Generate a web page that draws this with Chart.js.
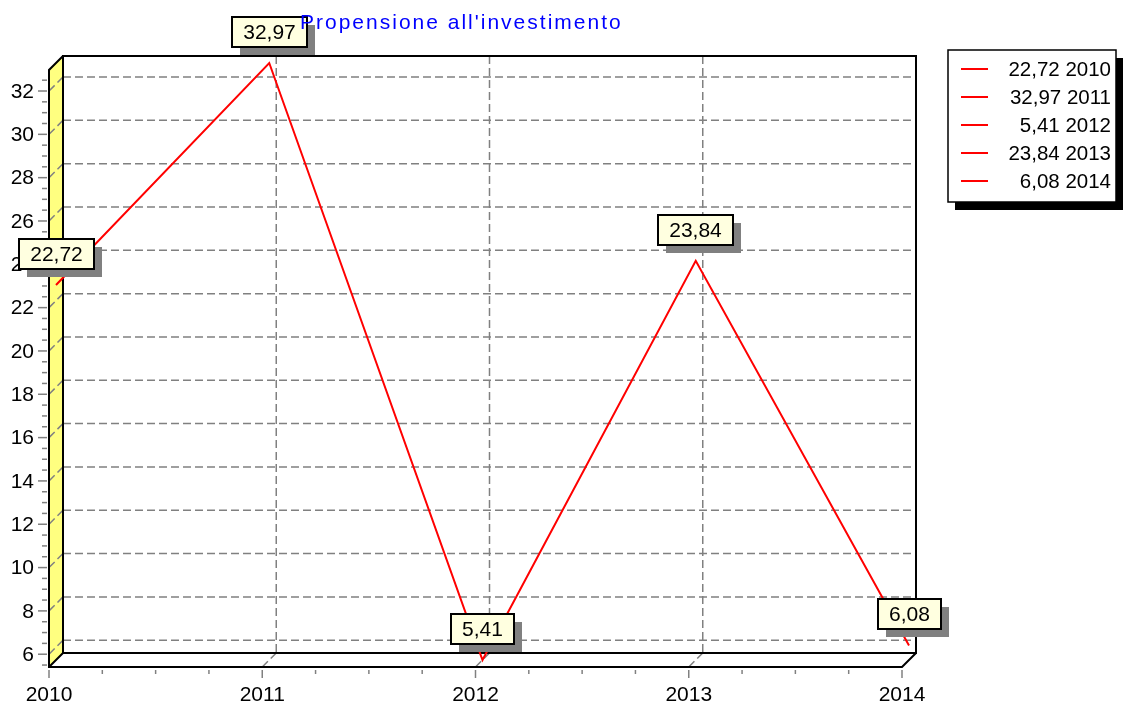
<!DOCTYPE html>
<html lang="it">
<head>
<meta charset="UTF-8">
<title>Propensione all'investimento</title>
<script src="https://cdn.jsdelivr.net/npm/chart.js"></script>
<style>
  html, body { margin: 0; padding: 0; background: #fff; }
  #wrap { width: 1125px; height: 705px; }
</style>
</head>
<body>
<div id="wrap"><canvas id="chart" width="1125" height="705"></canvas></div>
<script>
// data
const chartTitle = "Propensione all'investimento";
const years = [2010, 2011, 2012, 2013, 2014];
const values = [22.72, 32.97, 5.41, 23.84, 6.08];
const yTicks = [6, 8, 10, 12, 14, 16, 18, 20, 22, 24, 26, 28, 30, 32];
const xTicks = [2010, 2011, 2012, 2013, 2014];

const FONT = "'Liberation Sans', Arial, sans-serif";
const DEPTH = 14;           // 3D wall depth in px
const fmt = v => v.toFixed(2).replace('.', ',');

function dashedLine(ctx, x1, y1, x2, y2) {
  ctx.beginPath();
  ctx.moveTo(x1, y1);
  ctx.lineTo(x2, y2);
  ctx.stroke();
}

const walls = {
  id: 'walls',
  beforeDatasetsDraw(chart) {
    const ctx = chart.ctx;
    const a = chart.chartArea;
    const xs = chart.scales.x, ys = chart.scales.y;
    const L = a.left, R = a.right, T = a.top, B = a.bottom, d = DEPTH;

    ctx.save();
    // left wall (yellow)
    ctx.fillStyle = '#ffff80';
    ctx.beginPath();
    ctx.moveTo(L, T); ctx.lineTo(L + d, T - d); ctx.lineTo(L + d, B - d); ctx.lineTo(L, B);
    ctx.closePath(); ctx.fill();

    // grid lines (back wall + diagonals)
    ctx.strokeStyle = '#808080';
    ctx.lineWidth = 1.5;
    ctx.setLineDash([8, 4]);
    yTicks.forEach(v => {
      const y = ys.getPixelForValue(v);
      dashedLine(ctx, L + d, y - d, R + d, y - d);
      dashedLine(ctx, L, y, L + d, y - d);
    });
    xTicks.forEach(v => {
      const x = xs.getPixelForValue(v);
      if (v !== xTicks[0] && v !== xTicks[xTicks.length - 1]) {
        dashedLine(ctx, x + d, T - d, x + d, B - d);
        dashedLine(ctx, x, B, x + d, B - d);
      }
    });
    ctx.setLineDash([]);

    // borders
    ctx.strokeStyle = '#000';
    ctx.lineWidth = 2;
    ctx.beginPath();
    ctx.moveTo(L + d, B - d); ctx.lineTo(L + d, T - d); ctx.lineTo(R + d, T - d); ctx.lineTo(R + d, B - d);
    ctx.lineTo(L + d, B - d);
    ctx.stroke();
    ctx.beginPath();
    ctx.moveTo(L + d, T - d); ctx.lineTo(L, T); ctx.lineTo(L, B); ctx.lineTo(R, B); ctx.lineTo(R + d, B - d);
    ctx.moveTo(L, B); ctx.lineTo(L + d, B - d);
    ctx.stroke();

    // y ticks
    ctx.lineWidth = 1.5;
    ctx.strokeStyle = '#808080';
    for (let v = 5.5; v <= ys.max; v += 0.5) {
      if (v < ys.min) continue;
      const y = ys.getPixelForValue(v);
      const major = yTicks.includes(v);
      ctx.beginPath();
      ctx.moveTo(major ? L - 11 : L - 7, y);
      ctx.lineTo(L - 2, y);
      ctx.stroke();
    }
    ctx.fillStyle = '#000';
    ctx.font = '21px ' + FONT;
    ctx.textAlign = 'right';
    ctx.textBaseline = 'middle';
    yTicks.forEach(v => ctx.fillText(String(v), L - 15, ys.getPixelForValue(v) + 1));

    // x ticks
    for (let v = xTicks[0]; v <= xTicks[xTicks.length - 1]; v += 0.25) {
      const x = xs.getPixelForValue(v);
      const major = Number.isInteger(v);
      ctx.beginPath();
      ctx.moveTo(x, B + 3);
      ctx.lineTo(x, major ? B + 11 : B + 7);
      ctx.stroke();
    }
    ctx.font = '21px ' + FONT;
    ctx.textAlign = 'center';
    ctx.textBaseline = 'alphabetic';
    xTicks.forEach(v => ctx.fillText(String(v), xs.getPixelForValue(v), B + 34));
    ctx.restore();

    // series sits halfway into the depth
    ctx.save();
    ctx.translate(d / 2, -d / 2);
  },
  afterDatasetsDraw(chart) {
    const ctx = chart.ctx;
    ctx.restore();
    const xs = chart.scales.x, ys = chart.scales.y, d = DEPTH;

    // value marks
    ctx.save();
    ctx.font = '21px ' + FONT;
    ctx.textAlign = 'center';
    ctx.textBaseline = 'middle';
    values.forEach((v, i) => {
      const px = xs.getPixelForValue(years[i]) + d / 2;
      const py = ys.getPixelForValue(v) - d / 2;
      const txt = fmt(v);
      const w = Math.round(ctx.measureText(txt).width + 22), h = 30;
      const bx = Math.round(px - w / 2), by = Math.round(py - 16 - h);
      ctx.fillStyle = '#808080';
      ctx.fillRect(bx + 8, by + 8, w, h);
      ctx.fillStyle = '#ffffe0';
      ctx.fillRect(bx, by, w, h);
      ctx.strokeStyle = '#000';
      ctx.lineWidth = 2;
      ctx.strokeRect(bx, by, w, h);
      ctx.fillStyle = '#000';
      ctx.fillText(txt, bx + w / 2, by + h / 2 + 1);
    });

    // legend
    const lx = 948, ly = 50, lw = 168, lh = 152;
    ctx.fillStyle = '#000';
    ctx.fillRect(lx + 7, ly + 8, lw, lh);
    ctx.fillStyle = '#fff';
    ctx.fillRect(lx, ly, lw, lh);
    ctx.lineWidth = 1.5;
    ctx.strokeRect(lx, ly, lw, lh);
    ctx.font = '20.5px ' + FONT;
    ctx.textAlign = 'right';
    years.forEach((yr, i) => {
      const y = 69 + i * 28;
      ctx.strokeStyle = '#ff0000';
      ctx.lineWidth = 2;
      ctx.beginPath();
      ctx.moveTo(961, y); ctx.lineTo(988, y);
      ctx.stroke();
      ctx.fillStyle = '#000';
      ctx.fillText(fmt(values[i]) + ' ' + yr, 1111, y + 1);
    });

    // title
    ctx.fillStyle = '#0000ff';
    ctx.font = '21px ' + FONT;
    ctx.textAlign = 'left';
    ctx.textBaseline = 'alphabetic';
    ctx.letterSpacing = '2px';
    ctx.fillText(chartTitle, 300, 29);
    ctx.restore();
  }
};

new Chart(document.getElementById('chart'), {
  type: 'line',
  data: {
    datasets: [{
      data: years.map((yr, i) => ({ x: yr, y: values[i] })),
      borderColor: '#ff0000',
      borderWidth: 2,
      pointRadius: 0,
      tension: 0,
      clip: false
    }]
  },
  options: {
    responsive: false,
    animation: false,
    layout: { padding: { left: 49, right: 223, top: 70, bottom: 38 } },
    scales: {
      x: { type: 'linear', display: false, min: xTicks[0], max: xTicks[xTicks.length - 1] },
      y: { type: 'linear', display: false, min: Math.min(...values), max: Math.max(...values) }
    },
    plugins: { legend: { display: false }, title: { display: false }, tooltip: { enabled: false } }
  },
  plugins: [walls]
});
</script>
</body>
</html>
